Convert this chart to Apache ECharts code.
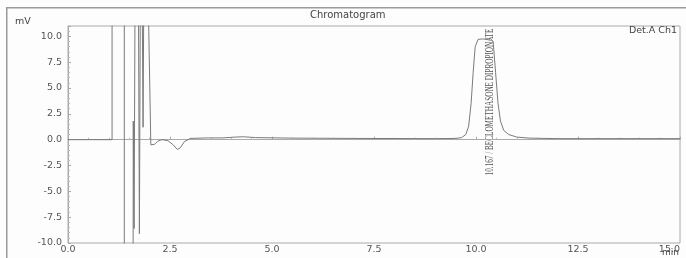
<!DOCTYPE html>
<html>
<head>
<meta charset="utf-8">
<script src="https://cdn.jsdelivr.net/npm/echarts@6/dist/echarts.min.js"></script>
<style>
  html, body { margin: 0; padding: 0; background: #fdfdfd; }
  #chart { width: 686px; height: 258px; }
</style>
</head>
<body>
<div id="chart"></div>
<script>
// 保留时间 (min) 与信号 (mV)，超出量程的点用 ±30 表示
const times = [0, 1.08, 1.08, 1.38, 1.38, 1.59, 1.60, 1.62, 1.66, 1.71, 1.75, 1.79, 1.82, 1.84, 1.88,
  1.98, 2.03, 2.06, 2.12, 2.2, 2.3, 2.45, 2.58, 2.68, 2.75, 2.85, 3.0, 3.4, 3.8, 4.1, 4.3, 4.6,
  5.5, 7.0, 9.0, 9.5, 9.65, 9.75, 9.82, 9.88, 9.93, 9.98, 10.05, 10.15, 10.3, 10.35, 10.42,
  10.48, 10.54, 10.6, 10.68, 10.8, 11.0, 11.3, 12.0, 15.0];
const signal = [0, 0, 30, 30, -30, -30, 1.8, -8.6, 30, 30, -9.1, 30, 30, 1.2, 30,
  10.5, -0.5, -0.6, -0.45, -0.15, 0.0, -0.1, -0.5, -0.95, -0.8, -0.2, 0.12, 0.17, 0.17, 0.25, 0.28, 0.2,
  0.15, 0.12, 0.1, 0.12, 0.2, 0.5, 1.3, 3.5, 6.5, 9.0, 9.7, 9.75, 9.7, 9.8, 9.5,
  6.5, 3.5, 1.8, 0.9, 0.5, 0.25, 0.15, 0.1, 0.1];
const xTicks = [0, 2.5, 5, 7.5, 10, 12.5, 15];
const yTicks = [-10, -7.5, -5, -2.5, 0, 2.5, 5, 7.5, 10];
const peakLabel = '10.167 / BECLOMETHASONE DIPROPIONATE';
const peakLabelAt = [10.34, 2.5];

const chart = echarts.init(document.getElementById('chart'));

const labelFont = {
  color: '#555',
  fontSize: 9.5,
  fontFamily: 'DejaVu Sans'
};

// 外框只要上边和左边：用两个填充的细条 grid
const frameBar = {
  show: true,
  backgroundColor: '#9a9a9a',
  borderWidth: 0
};
const hiddenAxis = { type: 'value', show: false };

chart.setOption({
  animation: false,
  backgroundColor: '#fdfdfd',
  grid: [{
    left: 68,
    right: 6,
    top: 26,
    bottom: 15,
    show: true,
    borderColor: '#aaa',
    borderWidth: 1
  },
  Object.assign({ left: 7, top: 7, right: 0, height: 1.5 }, frameBar),
  Object.assign({ left: 6, top: 7, width: 1.5, bottom: 0 }, frameBar)],
  xAxis: [{
    type: 'value',
    min: 0,
    max: 15,
    interval: 2.5,
    axisLine: { lineStyle: { color: '#aaa' } },
    axisTick: { inside: true, length: 3, lineStyle: { color: '#aaa' } },
    minorTick: { show: true, splitNumber: 5, length: 2, lineStyle: { color: '#bbb' } },
    splitLine: { show: false },
    axisLabel: Object.assign({
      margin: 2,
      alignMaxLabel: 'right',
      formatter: v => xTicks.includes(v) ? v.toFixed(1) : ''
    }, labelFont)
  },
  Object.assign({ gridIndex: 1 }, hiddenAxis),
  Object.assign({ gridIndex: 2 }, hiddenAxis)],
  yAxis: [{
    type: 'value',
    min: -10,
    max: 11,
    interval: 2.5,
    axisLine: { show: true, lineStyle: { color: '#aaa' } },
    axisTick: { inside: true, length: 3, lineStyle: { color: '#aaa' } },
    minorTick: { show: true, splitNumber: 5, length: 2, lineStyle: { color: '#bbb' } },
    splitLine: { show: false },
    axisLabel: Object.assign({
      margin: 6,
      formatter: v => yTicks.includes(v) ? v.toFixed(1) : ''
    }, labelFont)
  },
  Object.assign({ gridIndex: 1 }, hiddenAxis),
  Object.assign({ gridIndex: 2 }, hiddenAxis)],
  series: [{
    type: 'line',
    data: times.map((t, i) => [t, signal[i]]),
    showSymbol: false,
    clip: true,
    lineStyle: { color: '#7a7a7a', width: 1 }
  }]
});

// 峰标注位置
const p = chart.convertToPixel({ xAxisIndex: 0, yAxisIndex: 0 }, peakLabelAt);

chart.setOption({
  graphic: {
    elements: [
      { type: 'text', left: 310, top: 10, style: { text: 'Chromatogram', fill: '#444', font: '10px "DejaVu Sans"' } },
      { type: 'text', left: 15, top: 17, style: { text: 'mV', fill: '#444', font: '9.5px "DejaVu Sans"' } },
      { type: 'text', right: 9, top: 26, style: { text: 'Det.A Ch1', fill: '#444', font: '9.5px "DejaVu Sans"' } },
      { type: 'text', right: 7, top: 248, style: { text: 'min', fill: '#444', font: '9px "DejaVu Sans"' } },
      {
        type: 'text',
        x: p[0],
        y: 102,
        rotation: Math.PI / 2,
        scaleX: 0.6,
        style: {
          text: peakLabel,
          fill: '#555',
          font: '12px "Liberation Serif"',
          align: 'center',
          verticalAlign: 'middle'
        }
      }
    ]
  }
});
</script>
</body>
</html>
